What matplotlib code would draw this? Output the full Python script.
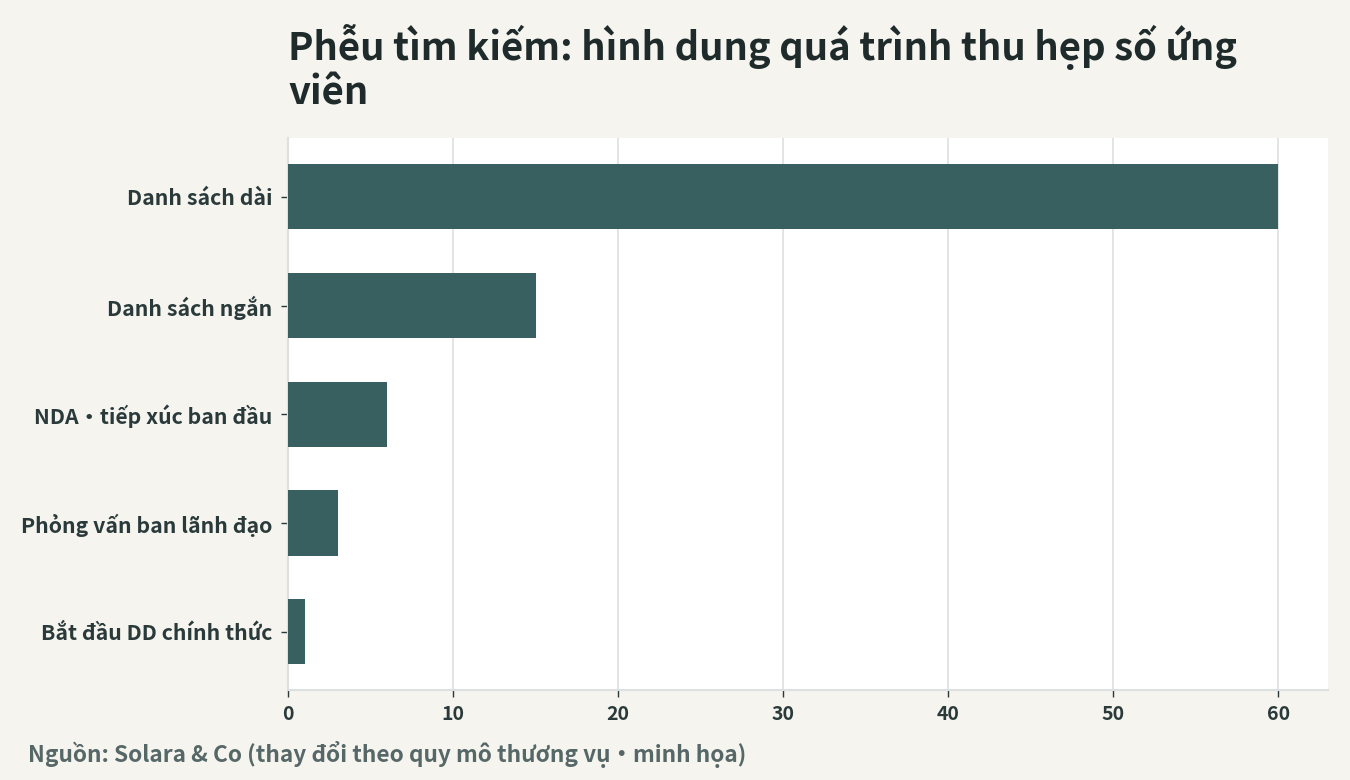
import matplotlib
matplotlib.use("Agg")
import matplotlib.pyplot as plt

categories = ["Danh sách dài", "Danh sách ngắn", "NDA·tiếp xúc ban đầu",
              "Phỏng vấn ban lãnh đạo", "Bắt đầu DD chính thức"]
values = [60, 15, 6, 3, 1]
xticks = [0, 10, 20, 30, 40, 50, 60]

plt.rcParams['font.family'] = ['Noto Sans CJK SC', 'DejaVu Sans']
plt.rcParams['font.weight'] = 'bold'

BG = "#f5f4ef"
BAR = "#386061"
TXT = "#2a3a3a"
GRID = "#dde0e0"

fig = plt.figure(figsize=(13.5, 7.8), dpi=100, facecolor=BG)
ax = fig.add_axes([288/1350, 1-690/780, (1328-288)/1350, (690-138)/780])
ax.set_facecolor("white")

ax.barh(range(len(categories)), values, height=0.6, color=BAR, zorder=3)
ax.set_yticks(range(len(categories)))
ax.set_yticklabels(categories, fontsize=15.3, fontweight='bold', color=TXT)
ax.set_ylim(len(categories) - 1 + 0.535, -0.54)
ax.set_xlim(0, 63)
ax.set_xticks(xticks)
ax.set_xticklabels([str(t) for t in xticks], fontsize=14, fontweight='bold', color=TXT)

ax.grid(axis='x', color=GRID, linewidth=1.2, zorder=0)
ax.grid(axis='y', visible=False)
for s in ['top', 'right']:
    ax.spines[s].set_visible(False)
for s in ['left', 'bottom']:
    ax.spines[s].set_color(GRID)
    ax.spines[s].set_linewidth(1.5)
ax.tick_params(axis='both', colors=TXT, length=5, width=1)
ax.tick_params(axis='y', pad=6)
ax.tick_params(axis='x', pad=6)

fig.text(288/1350, 1-24/780, "Phễu tìm kiếm: hình dung quá trình thu hẹp số ứng\nviên",
         fontsize=27.5, fontweight='bold', color="#1f2b2b", ha='left', va='top',
         linespacing=1.12)
fig.text(28/1350, 1-755/780, "Nguồn: Solara & Co (thay đổi theo quy mô thương vụ·minh họa)",
         fontsize=16.3, fontweight='bold', color="#566767", ha='left', va='center')

fig.savefig("out.png", dpi=100, facecolor=BG)
